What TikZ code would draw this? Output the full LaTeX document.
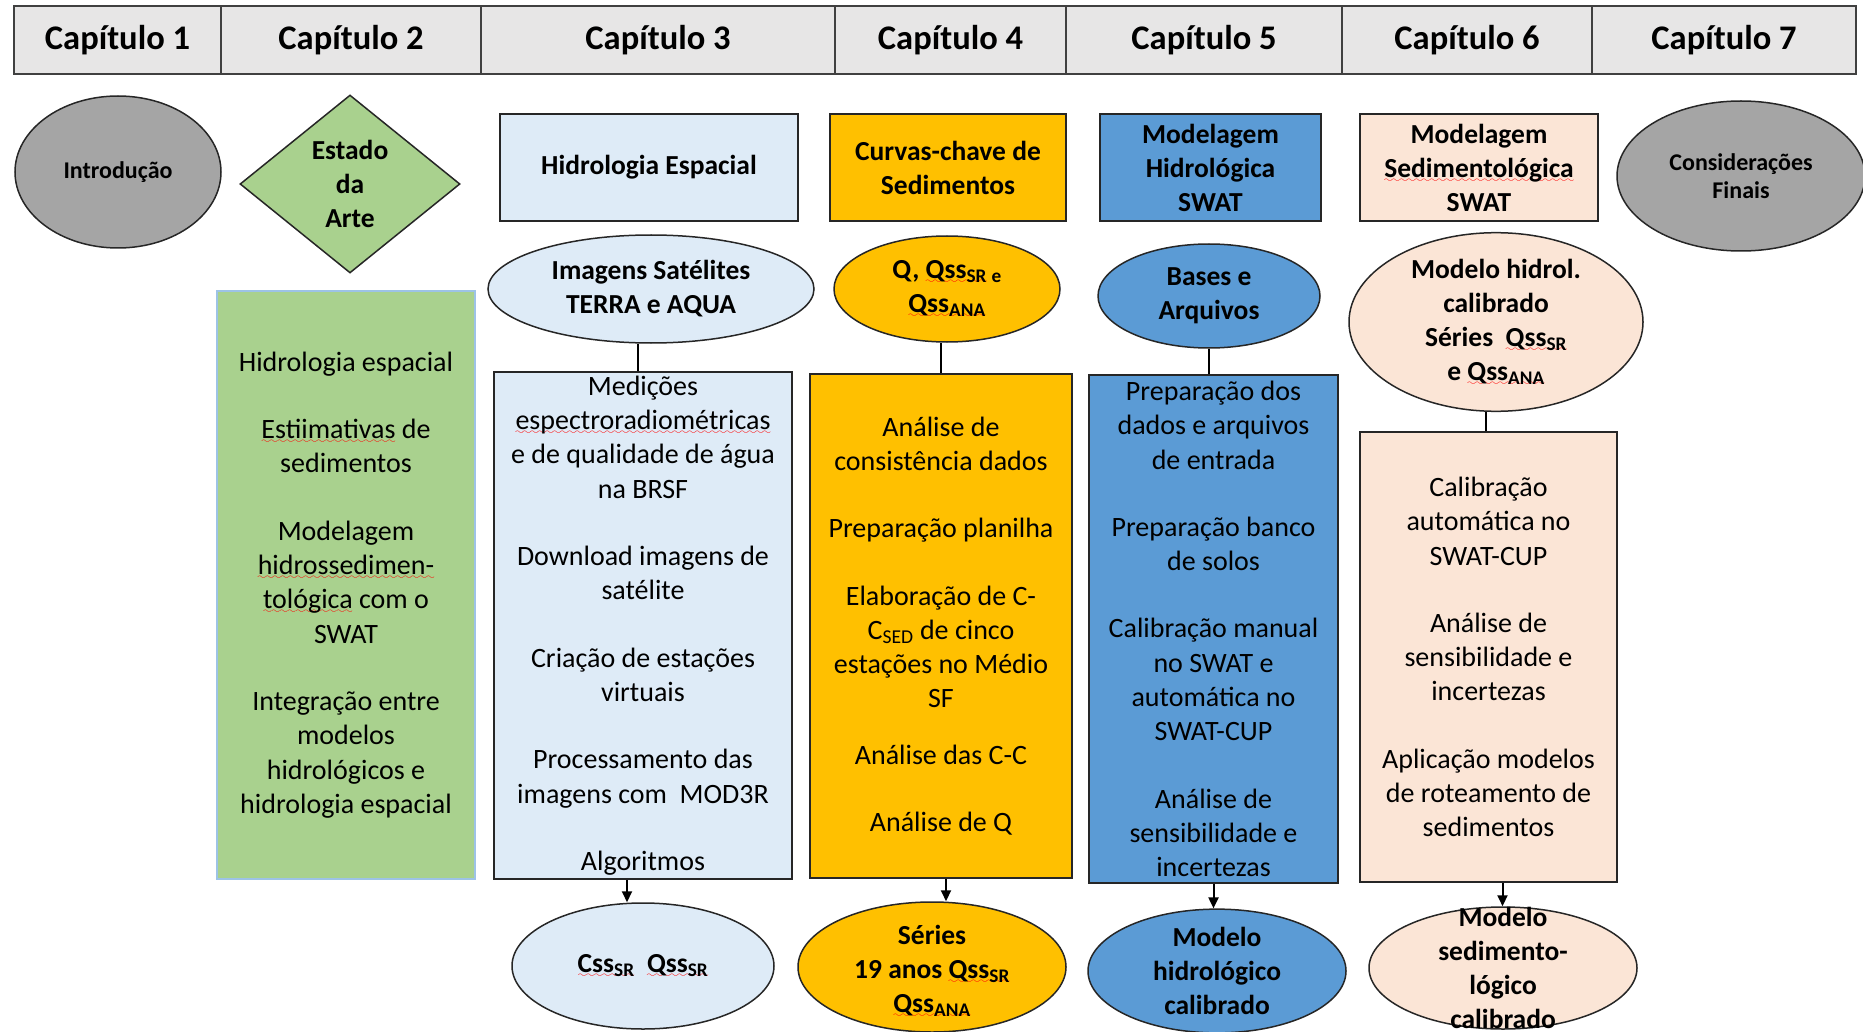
\documentclass[tikz,border=0pt]{standalone}
\usepackage{fontspec}
\setmainfont{Carlito}
\usetikzlibrary{arrows.meta,shapes.geometric}
\definecolor{capgray}{HTML}{E7E6E6}
\definecolor{cinza}{HTML}{A5A5A5}
\definecolor{verde}{HTML}{A9D18E}
\definecolor{azulclaro}{HTML}{DEEBF7}
\definecolor{laranja}{HTML}{FFC000}
\definecolor{azul}{HTML}{5B9BD5}
\definecolor{pessego}{HTML}{FBE5D6}
\definecolor{bordaverde}{HTML}{9DC3E6}
\font\wavefont=lasy6 at 9pt
% sublinhado ondulado vermelho
\newcommand\spell[1]{\leavevmode\setbox0\hbox{#1}\rlap{\lower5pt\hbox to\wd0{\color{red}\xleaders\hbox{\wavefont\char58}\hfill}}\box0\relax}
\newcommand\sub[1]{\textsubscript{#1}}
\tikzset{
  capitulo/.style={draw=black!75, line width=2pt, fill=capgray, inner sep=0pt,
              minimum height=68pt, font=\bfseries\fontsize{34.5}{40}\selectfont},
  titulo/.style={draw=black!85, line width=1.5pt, inner sep=0pt, align=center,
              font=\bfseries\fontsize{27.5}{34}\selectfont},
  bola/.style={ellipse, titulo},
  texto/.style={align=center, font=\bfseries\fontsize{27.5}{34}\selectfont},
  caixa/.style={draw=black!85, line width=1.5pt, inner sep=0pt, align=center,
              font=\fontsize{28}{34.3}\selectfont},
  lig/.style={line width=2pt},
  seta/.style={line width=2pt, -{Triangle[length=11pt,width=10pt]}}
}
\begin{document}
\begin{tikzpicture}[x=1pt,y=-1pt]
\useasboundingbox (0,0) rectangle (1863,1032);
% cabecalho
\foreach \a/\b [count=\i] in {14/221,221/481,481/835,835/1066,1066/1342,1342/1592,1592/1856}{
  \pgfmathsetmacro\w{\b-\a}
  \node[capitulo, minimum width=\w pt] (cap\i) at ({(\a+\b)/2},40) {Capítulo \i};
}

% linha 1
\node[bola, fill=cinza, minimum width=206pt, minimum height=152pt,
      font=\bfseries\fontsize{24}{28}\selectfont] (intro) at (118,172) {Introdução};
\node[titulo, diamond, fill=verde, aspect=1.24, minimum width=220pt,
      minimum height=178pt] (arte) at (350,184) {Estado\\da\\Arte};
\node[titulo, fill=azulclaro, minimum width=298pt, minimum height=107pt] (hidesp) at (649,167.5) {Hidrologia Espacial};
\node[titulo, fill=laranja, minimum width=236pt, minimum height=107pt] (curvas) at (948,167.5) {Curvas-chave de\\Sedimentos};
\node[titulo, fill=azul, minimum width=221pt, minimum height=107pt] (modhid) at (1210.5,167.5) {Modelagem\\Hidrológica\\SWAT};
\node[titulo, fill=pessego, minimum width=238pt, minimum height=107pt] (modsed) at (1479,167.5) {Modelagem\\\spell{Sedimentológica}\\SWAT};
\node[bola, fill=cinza, minimum width=248pt, minimum height=150pt,
      font=\bfseries\fontsize{24}{28}\selectfont] (consid) at (1741,176) {Considerações\\Finais};

% linha 2
\node[bola, fill=azulclaro, minimum width=326pt, minimum height=108pt] (imgsat) at (651,289) {Imagens Satélites\\TERRA e AQUA};
\node[bola, fill=laranja, minimum width=226pt, minimum height=106pt] (qss) at (947,289) {Q, \spell{Qss\sub{SR}}\,\sub{e}\\\spell{Qss\sub{ANA}}};
\node[bola, fill=azul, minimum width=222pt, minimum height=104pt] (bases) at (1209,296) {Bases e\\Arquivos};
\node[bola, fill=pessego, minimum width=294pt, minimum height=178pt] (hidrol) at (1496,322) {Modelo hidrol.\\calibrado\\Séries~~\spell{Qss\sub{SR}}\\e \spell{Qss\sub{ANA}}};

% linha 3
\node[caixa, fill=verde, draw=bordaverde, minimum width=258pt, minimum height=588pt] (cx2) at (346,585)
  {Hidrologia espacial\\[33pt]\spell{Estiimativas} de\\sedimentos\\[33pt]Modelagem\\\spell{hidrossedimen-}\\\spell{tológica} com o\\SWAT\\[33pt]Integração entre\\modelos\\hidrológicos e\\hidrologia espacial};
\node[caixa, fill=azulclaro, minimum width=298pt, minimum height=507pt] (cx3) at (643,625.5)
  {Medições\\\spell{espectroradiométricas}\\e de qualidade de água\\na BRSF\\[33pt]Download imagens de\\satélite\\[33pt]Criação de estações\\virtuais\\[33pt]Processamento das\\imagens com~~MOD3R\\[33pt]Algoritmos};
\node[caixa, fill=laranja, minimum width=262pt, minimum height=504pt] (cx4) at (941,626)
  {Análise de\\consistência dados\\[33pt]Preparação planilha\\[33pt]Elaboração de C-\\C\sub{SED} de cinco\\estações no Médio\\SF\\[22pt]Análise das C-C\\[33pt]Análise de Q};
\node[caixa, fill=azul, minimum width=249pt, minimum height=508pt] (cx5) at (1213.5,629)
  {Preparação dos\\dados e arquivos\\de entrada\\[33pt]Preparação banco\\de solos\\[33pt]Calibração manual\\no SWAT e\\automática no\\SWAT-CUP\\[33pt]Análise de\\sensibilidade e\\incertezas};
\node[caixa, fill=pessego, minimum width=257pt, minimum height=450pt] (cx6) at (1488.5,657)
  {Calibração\\automática no\\SWAT-CUP\\[33pt]Análise de\\sensibilidade e\\incertezas\\[33pt]Aplicação modelos\\de roteamento de\\sedimentos};

% linha 4
\node[bola, fill=azulclaro, minimum width=262pt, minimum height=126pt] (css) at (643,966) {\spell{Css\sub{SR}}~~\spell{Qss\sub{SR}}};
\node[bola, fill=laranja, minimum width=268pt, minimum height=130pt] (series) at (932,967) {};
\node[texto] (seriestxt) at (932,971) {Séries\\19 anos \spell{Qss\sub{SR}}\\\spell{Qss\sub{ANA}}};
\node[bola, fill=azul, minimum width=258pt, minimum height=122pt] (modcal) at (1217,971) {Modelo\\hidrológico\\calibrado};
\node[bola, fill=pessego, minimum width=268pt, minimum height=122pt] (sedcal) at (1503,968) {};
\node[texto] (sedcaltxt) at (sedcal) {Modelo\\sedimento-\\lógico\\calibrado};

% ligacoes
\draw[lig] ([xshift=-5pt]cx3.north) -- ([xshift=-5pt]cx3.north |- imgsat.south);
\draw[lig] (cx4.north) -- (cx4.north |- qss.south);
\draw[lig] ([xshift=-5pt]cx5.north) -- ([xshift=-5pt]cx5.north |- bases.south);
\draw[lig] ([xshift=-3pt]cx6.north) -- ([xshift=-3pt]cx6.north |- hidrol.south);
\draw[seta] ([xshift=-16pt]cx3.south) -- ([xshift=-16pt]cx3.south |- css.north);
\draw[seta] ([xshift=5pt]cx4.south) -- ([xshift=5pt]cx4.south |- series.north);
\draw[seta] (cx5.south) -- (cx5.south |- modcal.north);
\draw[seta] ([xshift=14pt]cx6.south) -- ([xshift=14pt]cx6.south |- sedcal.north);
\end{tikzpicture}
\end{document}
